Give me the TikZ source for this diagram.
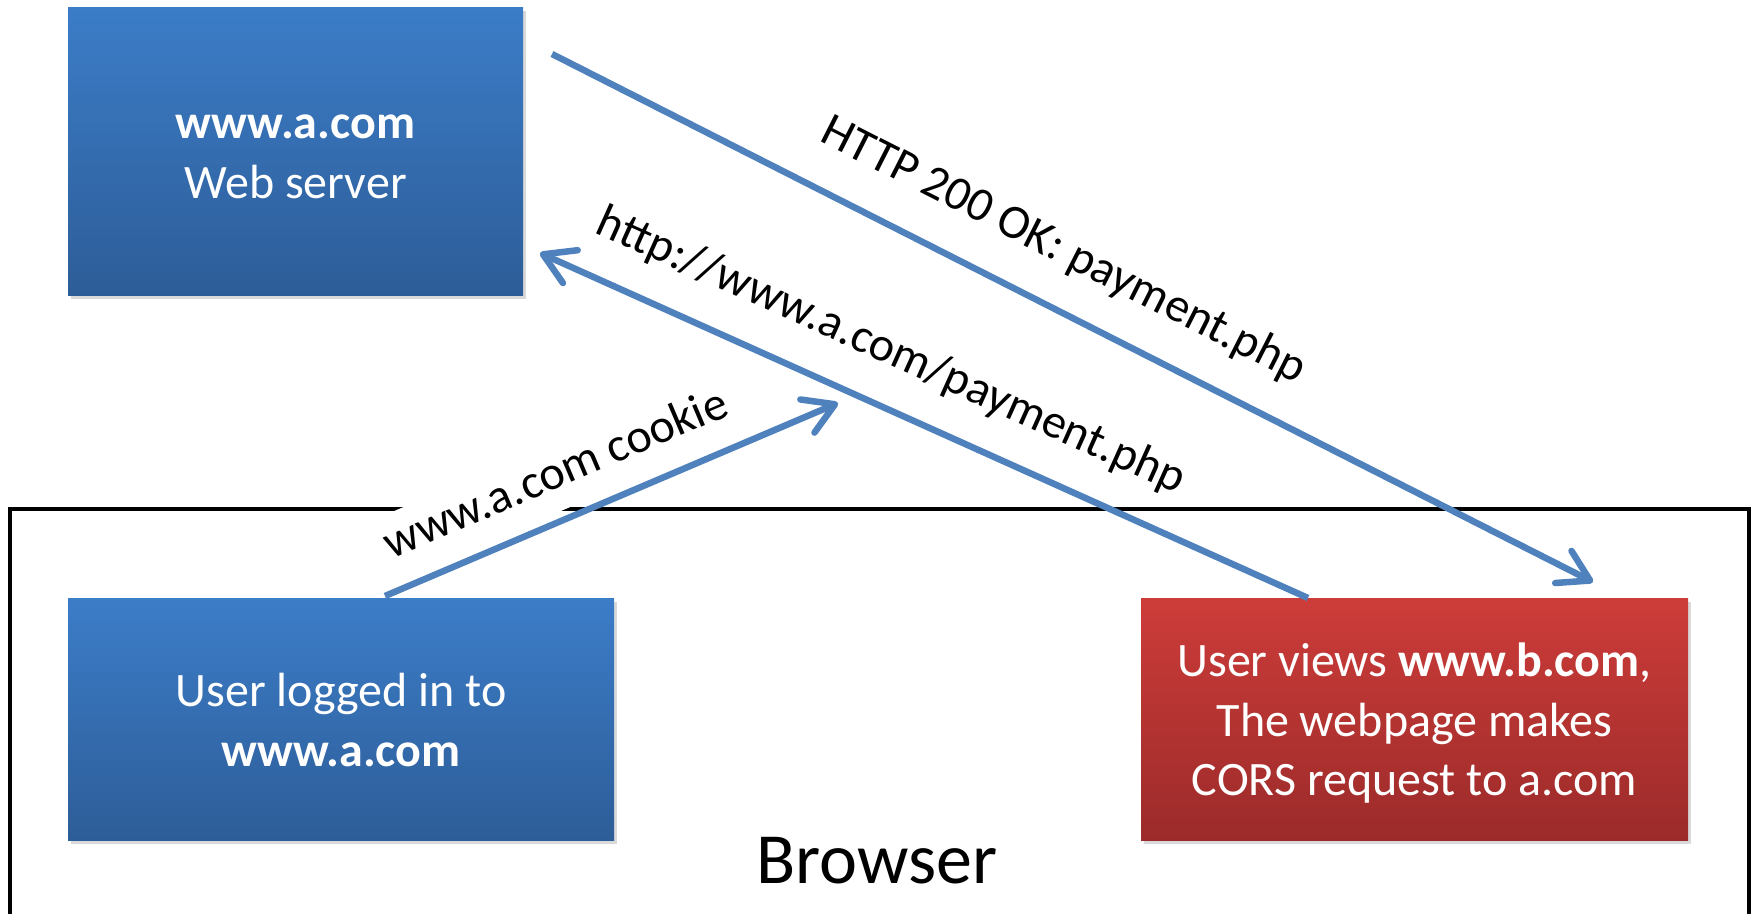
\documentclass[tikz,border=0pt]{standalone}
\usepackage{fontspec}
\setmainfont{Carlito}
\usetikzlibrary{arrows.meta,shadows}
\definecolor{flowblue}{RGB}{79,129,189}
\definecolor{blueTop}{RGB}{60,125,200}
\definecolor{blueBot}{RGB}{45,93,152}
\definecolor{redTop}{RGB}{205,60,57}
\definecolor{redBot}{RGB}{155,43,42}
% every box line gets the same ascent and descent, so text blocks centre evenly
\newcommand\pptstrut{\rule[-.25em]{0pt}{1.22em}}
\begin{document}
\begin{tikzpicture}[x=1pt,y=-1pt,
  box/.style={rectangle, inner sep=0pt, text=white, align=center,
    font=\fontsize{48}{58.56}\selectfont,
    drop shadow={shadow xshift=3pt, shadow yshift=-4pt, opacity=0.3}},
  bluebox/.style={box, top color=blueTop, bottom color=blueBot},
  redbox/.style={box, top color=redTop, bottom color=redBot},
  flow/.style={draw=flowblue, line width=6.5pt,
    -{Straight Barb[length=30pt,width=36pt,round]}},
  lbl/.style={font=\fontsize{48}{58}\selectfont, inner sep=0pt, sloped},
  frame/.style={draw=black, line width=4pt, rectangle, inner sep=0pt}
]
\useasboundingbox (0,0) rectangle (1756,913);
\clip (0,0) rectangle (1756,913);

% browser frame, open past the lower edge
\node[frame, anchor=north west, minimum width=1739pt, minimum height=440pt] (browser) at (8,507) {};
\node[font=\fontsize{72}{86}\selectfont, inner sep=0pt] (browserlbl) at (877,861) {Browser};

% the three boxes
\node[bluebox, minimum width=455pt, minimum height=288pt] (web) at (295.5,151)
  {\pptstrut\textbf{www.a.com}\\\pptstrut Web server};
\node[bluebox, minimum width=546pt, minimum height=242pt] (user) at (341,719)
  {\pptstrut User logged in to\\\pptstrut\textbf{www.a.com}};
\node[redbox, minimum width=547pt, minimum height=242pt] (page) at (1414.5,719)
  {\pptstrut User views \textbf{www.b.com},\\\pptstrut The webpage makes\\\pptstrut CORS request to a.com};

% connector end points
\coordinate (respStart) at (552,54);
\coordinate (respEnd)   at (1593,582);
\coordinate (reqStart)  at (1308,598);
\coordinate (reqEnd)    at (540,253);
\coordinate (ckStart)   at (385,596);
\coordinate (ckEnd)     at (838,403);

% connectors
\draw[flow] (respStart) -- node[lbl, pos=0.467, above=32pt] (respLbl) {HTTP 200 OK: payment.php} (respEnd);
\draw[flow] (reqStart) -- node[lbl, pos=0.572, above=30pt] (reqLbl) {http://www.a.com/payment.php} (reqEnd);
\draw[flow] (ckStart) -- node[lbl, pos=0.416, above=6pt, fill=white, inner xsep=0pt, inner ysep=10pt, text depth=12pt] (ckLbl) {www.a.com cookie} (ckEnd);
\end{tikzpicture}
\end{document}
